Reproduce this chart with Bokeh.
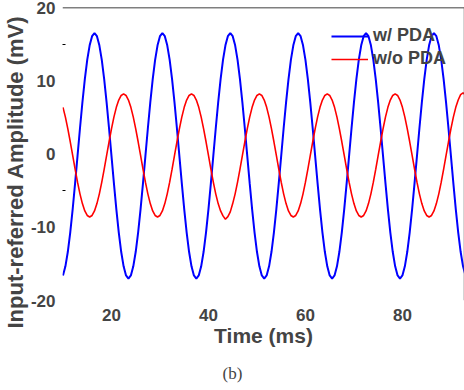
from bokeh.plotting import figure
from bokeh.models import Range1d, FixedTicker, Legend, LegendItem, Title, Span
from bokeh.embed import file_html
from bokeh.resources import INLINE

# ---- data ----
time_ms = [
    10.0, 10.5, 11.0, 11.5, 12.0, 12.5, 13.0, 13.5, 14.0, 14.5, 15.0, 15.5, 16.0, 16.5, 17.0, 17.5,
    18.0, 18.5, 19.0, 19.5, 20.0, 20.5, 21.0, 21.5, 22.0, 22.5, 23.0, 23.5, 24.0, 24.5, 25.0, 25.5,
    26.0, 26.5, 27.0, 27.5, 28.0, 28.5, 29.0, 29.5, 30.0, 30.5, 31.0, 31.5, 32.0, 32.5, 33.0, 33.5,
    34.0, 34.5, 35.0, 35.5, 36.0, 36.5, 37.0, 37.5, 38.0, 38.5, 39.0, 39.5, 40.0, 40.5, 41.0, 41.5,
    42.0, 42.5, 43.0, 43.5, 44.0, 44.5, 45.0, 45.5, 46.0, 46.5, 47.0, 47.5, 48.0, 48.5, 49.0, 49.5,
    50.0, 50.5, 51.0, 51.5, 52.0, 52.5, 53.0, 53.5, 54.0, 54.5, 55.0, 55.5, 56.0, 56.5, 57.0, 57.5,
    58.0, 58.5, 59.0, 59.5, 60.0, 60.5, 61.0, 61.5, 62.0, 62.5, 63.0, 63.5, 64.0, 64.5, 65.0, 65.5,
    66.0, 66.5, 67.0, 67.5, 68.0, 68.5, 69.0, 69.5, 70.0, 70.5, 71.0, 71.5, 72.0, 72.5, 73.0, 73.5,
    74.0, 74.5, 75.0, 75.5, 76.0, 76.5, 77.0, 77.5, 78.0, 78.5, 79.0, 79.5, 80.0, 80.5, 81.0, 81.5,
    82.0, 82.5, 83.0, 83.5, 84.0, 84.5, 85.0, 85.5, 86.0, 86.5, 87.0, 87.5, 88.0, 88.5, 89.0, 89.5,
    90.0, 90.5, 91.0, 91.5, 92.0, 92.5, 93.0,
]

with_pda = [
    -16.58, -15.34, -13.35, -10.69, -7.52, -3.98, -0.25, 3.48, 7.02, 10.19, 12.85, 14.84, 16.08,
    16.50, 16.08, 14.84, 12.85, 10.19, 7.02, 3.48, -0.25, -3.98, -7.52, -10.69, -13.35, -15.34,
    -16.58, -17.00, -16.58, -15.34, -13.35, -10.69, -7.52, -3.98, -0.25, 3.48, 7.02, 10.19, 12.85,
    14.84, 16.08,
    16.50, 16.08, 14.84, 12.85, 10.19, 7.02, 3.48, -0.25, -3.98, -7.52, -10.69, -13.35, -15.34,
    -16.58, -17.00, -16.58, -15.34, -13.35, -10.69, -7.52, -3.98, -0.25, 3.48, 7.02, 10.19, 12.85,
    14.84, 16.08,
    16.50, 16.08, 14.84, 12.85, 10.19, 7.02, 3.48, -0.25, -3.98, -7.52, -10.69, -13.35, -15.34,
    -16.58, -17.00, -16.58, -15.34, -13.35, -10.69, -7.52, -3.98, -0.25, 3.48, 7.02, 10.19, 12.85,
    14.84, 16.08,
    16.50, 16.08, 14.84, 12.85, 10.19, 7.02, 3.48, -0.25, -3.98, -7.52, -10.69, -13.35, -15.34,
    -16.58, -17.00, -16.58, -15.34, -13.35, -10.69, -7.52, -3.98, -0.25, 3.48, 7.02, 10.19, 12.85,
    14.84, 16.08,
    16.50, 16.08, 14.84, 12.85, 10.19, 7.02, 3.48, -0.25, -3.98, -7.52, -10.69, -13.35, -15.34,
    -16.58, -17.00, -16.58, -15.34, -13.35, -10.69, -7.52, -3.98, -0.25, 3.48, 7.02, 10.19, 12.85,
    14.84, 16.08,
    16.50, 16.08, 14.84, 12.85, 10.19, 7.02, 3.48, -0.25, -3.98, -7.52, -10.69, -13.35, -15.34,
    -16.58,
]

without_pda = [
    6.37, 5.04, 3.44, 1.67, -0.20, -2.07, -3.84, -5.44, -6.77, -7.77, -8.39, -8.60, -8.39, -7.77,
    -6.77, -5.44, -3.84, -2.07, -0.20, 1.67, 3.44, 5.04, 6.37, 7.37, 7.99,
    8.20, 7.99, 7.37, 6.37, 5.04, 3.44, 1.67, -0.20, -2.07, -3.84, -5.44, -6.77, -7.77, -8.39,
    -8.60, -8.39, -7.77, -6.77, -5.44, -3.84, -2.07, -0.20, 1.67, 3.44, 5.04, 6.37, 7.37, 7.99,
    8.20, 7.99, 7.37, 6.37, 5.04, 3.44, 1.67, -0.20, -2.07, -3.84, -5.44, -6.77, -7.77, -8.45,
    -8.90, -8.55, -7.90, -6.77, -5.44, -3.84, -2.07, -0.20, 1.67, 3.44, 5.04, 6.37, 7.37, 7.99,
    8.20, 7.99, 7.37, 6.37, 5.04, 3.44, 1.67, -0.20, -2.07, -3.84, -5.44, -6.77, -7.77, -8.39,
    -8.60, -8.39, -7.77, -6.77, -5.44, -3.84, -2.07, -0.20, 1.67, 3.44, 5.04, 6.37, 7.37, 7.99,
    8.20, 7.99, 7.37, 6.37, 5.04, 3.44, 1.67, -0.20, -2.07, -3.84, -5.44, -6.77, -7.77, -8.39,
    -8.60, -8.39, -7.77, -6.77, -5.44, -3.84, -2.07, -0.20, 1.67, 3.44, 5.04, 6.37, 7.37, 7.99,
    8.20, 7.99, 7.37, 6.37, 5.04, 3.44, 1.67, -0.20, -2.07, -3.84, -5.44, -6.77, -7.77, -8.39,
    -8.60, -8.39, -7.77, -6.77, -5.44, -3.84, -2.07, -0.20, 1.67, 3.44, 5.04, 6.37, 7.37, 8.10,
    8.35, 8.05,
]

x_ticks = [20, 40, 60, 80]
y_ticks = [-20, -10, 0, 10, 20]
y_tick_labels = {-20: "-20", -10: "-10", 0: "0", 10: "10", 20: "20"}
y_minor = [15, -5]
series_names = ["w/ PDA", "w/o PDA"]
series_colors = ["#0000FF", "#FF0000"]
x_lo, x_hi = 9.9, 92.8
y_lo, y_hi = -20, 20

FONT = "Liberation Sans"

p = figure(frame_width=402, frame_height=293, output_backend="svg", toolbar_location=None,
           x_range=Range1d(x_lo, x_hi), y_range=Range1d(y_lo, y_hi),
           min_border_left=52, min_border_right=2, min_border_top=14, min_border_bottom=2)
p.styles = {"margin-top": "-7px"}
p.background_fill_color = "white"
p.border_fill_color = "white"
p.outline_line_color = None
p.grid.visible = False

r1 = p.line(time_ms, with_pda, line_color=series_colors[0], line_width=2)
r2 = p.line(time_ms, without_pda, line_color=series_colors[1], line_width=1.6)

# left axis
ya = p.yaxis[0]
ya.ticker = FixedTicker(ticks=y_ticks, minor_ticks=y_minor)
ya.major_label_overrides = y_tick_labels
ya.axis_line_color = None
ya.major_tick_line_color = None
ya.minor_tick_in = 3
ya.minor_tick_out = 0
ya.minor_tick_line_color = "black"
ya.major_label_text_font = FONT
ya.major_label_text_font_style = "bold"
ya.major_label_text_font_size = "17px"
ya.major_label_standoff = 1

ytitle = Title(text="Input-referred Amplitude (mV)", align="left", offset=-28,
               text_font=FONT, text_font_style="bold", text_font_size="22px", standoff=0)
p.add_layout(ytitle, "left")

# bottom axis
xa = p.xaxis[0]
xa.ticker = FixedTicker(ticks=x_ticks)
xa.axis_line_color = None
xa.major_tick_line_color = None
xa.minor_tick_line_color = None
xa.major_label_text_font = FONT
xa.major_label_text_font_style = "bold"
xa.major_label_text_font_size = "17px"
xa.major_label_standoff = 2
xa.axis_label = "Time (ms)"
xa.axis_label_text_font = FONT
xa.axis_label_text_font_style = "bold"
xa.axis_label_text_font_size = "21px"
xa.axis_label_standoff = 0

# top and right frame lines
p.add_layout(Span(location=y_hi, dimension="width", line_color="black", line_width=1.5))
p.add_layout(Span(location=x_hi, dimension="height", line_color="#555555", line_width=1.5))

legend = Legend(items=[LegendItem(label=series_names[0], renderers=[r1]),
                       LegendItem(label=series_names[1], renderers=[r2])],
                location="top_right", margin=18, padding=0, spacing=2,
                glyph_width=37, glyph_height=20, label_height=20, label_standoff=5,
                label_text_font=FONT, label_text_font_style="bold",
                label_text_font_size="18px", border_line_color=None,
                background_fill_alpha=0)
p.add_layout(legend)

caption = Title(text="(b)", align="left", offset=160, text_font="Liberation Serif",
                text_font_style="normal", text_font_size="17px", standoff=24)
p.add_layout(caption, "below")

open("out.html", "w").write(file_html(p, INLINE))
